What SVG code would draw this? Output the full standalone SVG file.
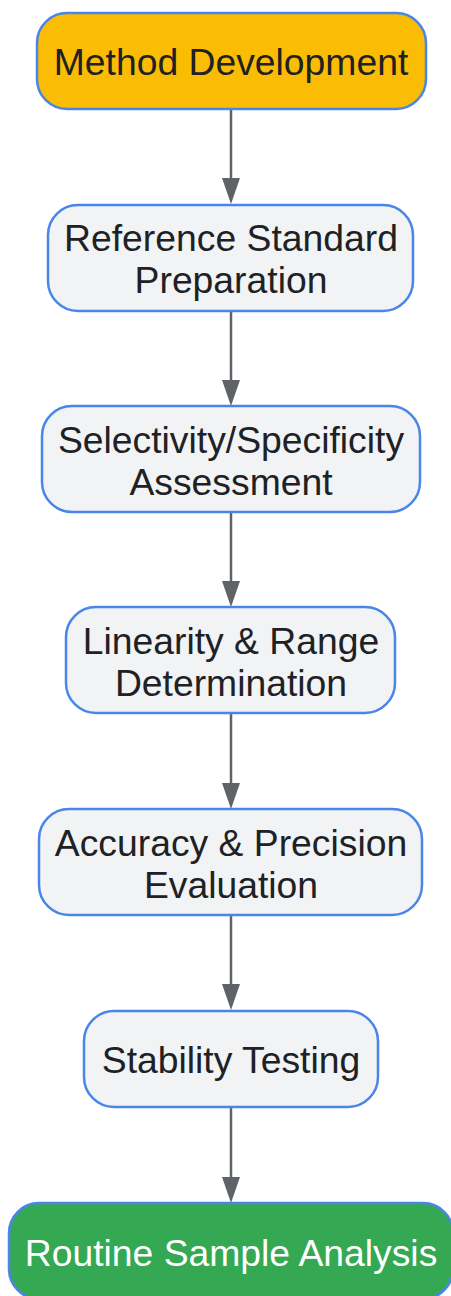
<svg xmlns="http://www.w3.org/2000/svg" width="451" height="1296" viewBox="0 0 451 1296">
  <style>
    .node rect { fill: #f1f3f5; stroke: #4a86e8; stroke-width: 2.5; }
    .node text { font-family: "Liberation Sans", Arial, sans-serif; font-size: 37.3px; fill: #202124; text-anchor: middle; }
    #n1 rect { fill: #fbbc04; }
    #n7 rect { fill: #34a853; }
    #n7 text { fill: #ffffff; }
    .edge { stroke: #5f6368; stroke-width: 2.5; fill: none; }
    .head { fill: #5f6368; }
  </style>
  <rect width="451" height="1296" fill="#ffffff"/>
  <g id="connectors">
    <line class="edge" x1="231" y1="109" x2="231" y2="180"/>
    <polygon class="head" points="222,178 240,178 231,204"/>
    <line class="edge" x1="231" y1="311" x2="231" y2="382"/>
    <polygon class="head" points="222,380 240,380 231,406"/>
    <line class="edge" x1="231" y1="512" x2="231" y2="583"/>
    <polygon class="head" points="222,581 240,581 231,607"/>
    <line class="edge" x1="231" y1="713" x2="231" y2="785"/>
    <polygon class="head" points="222,783 240,783 231,809"/>
    <line class="edge" x1="231" y1="915" x2="231" y2="986"/>
    <polygon class="head" points="222,984 240,984 231,1010"/>
    <line class="edge" x1="231" y1="1107" x2="231" y2="1179"/>
    <polygon class="head" points="222,1177 240,1177 231,1203"/>
  </g>
  <g id="n1" class="node">
    <rect x="37" y="13" width="389" height="96" rx="30"/>
    <text x="231" y="75">Method Development</text>
  </g>
  <g id="n2" class="node">
    <rect x="48" y="205" width="365" height="106" rx="30"/>
    <text x="231" y="251">Reference Standard</text>
    <text x="231" y="293">Preparation</text>
  </g>
  <g id="n3" class="node">
    <rect x="42" y="406" width="378" height="106" rx="30"/>
    <text x="231" y="453">Selectivity/Specificity</text>
    <text x="231" y="495">Assessment</text>
  </g>
  <g id="n4" class="node">
    <rect x="66" y="607" width="329" height="106" rx="30"/>
    <text x="231" y="654">Linearity &amp; Range</text>
    <text x="231" y="696">Determination</text>
  </g>
  <g id="n5" class="node">
    <rect x="39" y="809" width="383" height="106" rx="30"/>
    <text x="231" y="856">Accuracy &amp; Precision</text>
    <text x="231" y="898">Evaluation</text>
  </g>
  <g id="n6" class="node">
    <rect x="84" y="1011" width="294" height="96" rx="30"/>
    <text x="231" y="1073">Stability Testing</text>
  </g>
  <g id="n7" class="node">
    <rect x="9" y="1203" width="444" height="96" rx="30"/>
    <text x="231" y="1266">Routine Sample Analysis</text>
  </g>
</svg>
